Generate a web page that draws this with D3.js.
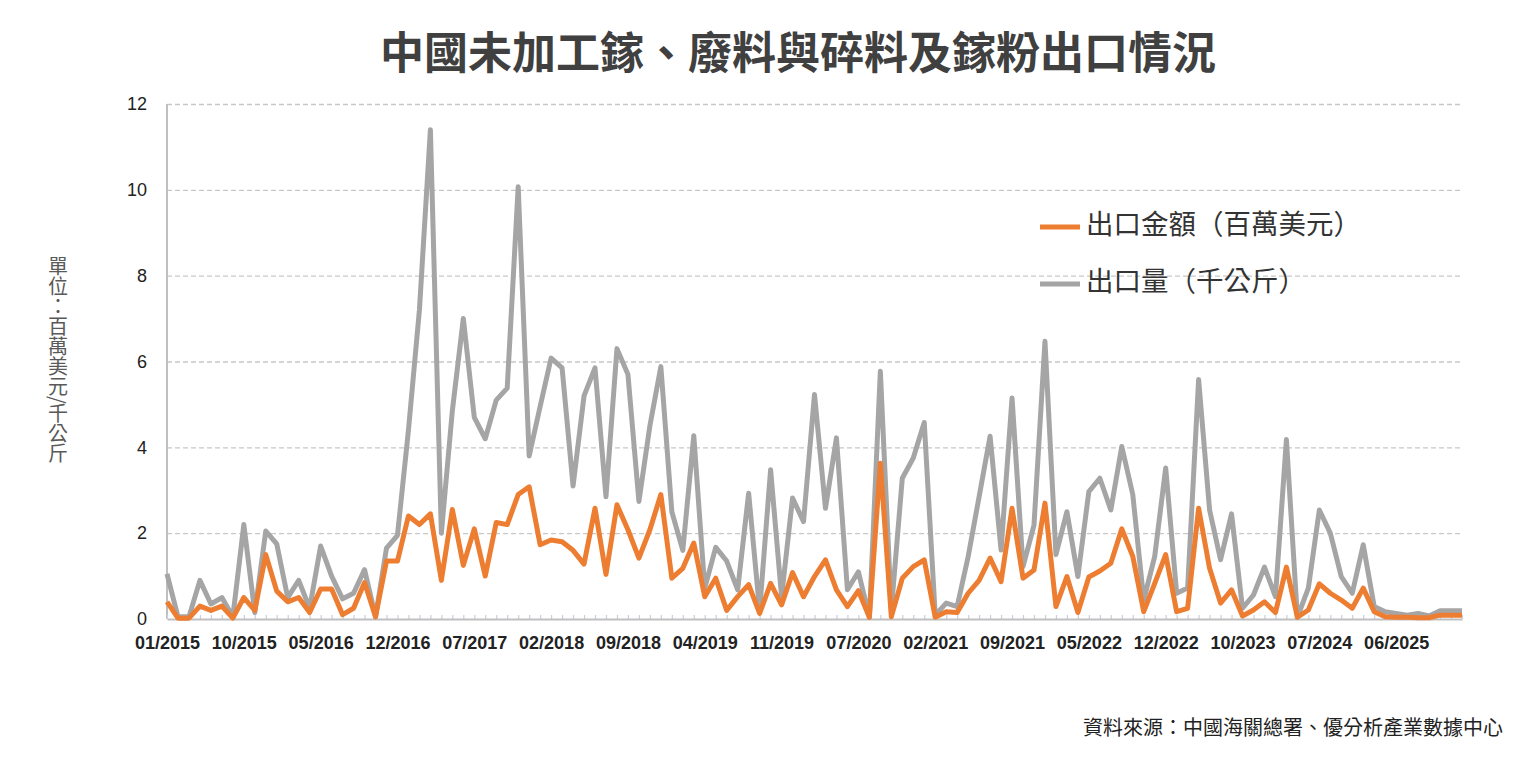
<!DOCTYPE html>
<html>
<head>
<meta charset="utf-8">
<script src="https://cdn.jsdelivr.net/npm/d3@7"></script>
<style>
  body { margin: 0; background: #fff; }
  text { font-family: "Noto Sans CJK TC", "Noto Sans", sans-serif; }
</style>
</head>
<body>
<svg id="chart" width="1530" height="772"></svg>
<script>
// x-axis labels, one every 7 categories
const tickLabels = ["01/2015", "10/2015", "05/2016", "12/2016", "07/2017", "02/2018", "09/2018",
    "04/2019", "11/2019", "07/2020", "02/2021", "09/2021", "05/2022", "12/2022", "10/2023",
    "07/2024", "06/2025"];

// 出口金額 (百萬美元)
const exportValue = [
    0.4, 0.02, 0.02, 0.3, 0.2, 0.3, 0.02, 0.5, 0.2, 1.5,
    0.65, 0.4, 0.5, 0.15, 0.7, 0.7, 0.1, 0.25, 0.85, 0.05,
    1.35, 1.35, 2.4, 2.2, 2.45, 0.9, 2.55, 1.25, 2.1, 1.0,
    2.25, 2.2, 2.9, 3.08, 1.73, 1.84, 1.8, 1.6, 1.28, 2.58,
    1.04, 2.66, 2.08, 1.42, 2.08, 2.9, 0.95, 1.18, 1.77, 0.52,
    0.95, 0.2, 0.52, 0.8, 0.13, 0.83, 0.33, 1.08, 0.52, 0.99,
    1.38, 0.68, 0.29, 0.66, 0.04, 3.63, 0.05, 0.95, 1.22, 1.38,
    0.04, 0.17, 0.15, 0.6, 0.9, 1.42, 0.87, 2.58, 0.95, 1.14,
    2.7, 0.29, 0.99, 0.15, 0.98, 1.12, 1.3, 2.1, 1.46, 0.17,
    0.83, 1.5, 0.17, 0.25, 2.58, 1.18, 0.37, 0.68, 0.07, 0.21,
    0.4, 0.15, 1.21, 0.04, 0.21, 0.82, 0.6, 0.44, 0.25, 0.72,
    0.17, 0.05, 0.04, 0.04, 0.03, 0.03, 0.09, 0.09, 0.09
];

// 出口量 (千公斤)
const exportVolume = [
    1.05, 0.05, 0.05, 0.9, 0.35, 0.5, 0.05, 2.2, 0.15, 2.05,
    1.75, 0.5, 0.9, 0.25, 1.7, 1.0, 0.47, 0.6, 1.15, 0.05,
    1.65, 1.95, 4.4, 7.2, 11.4, 2.0, 4.85, 7.0, 4.7, 4.2,
    5.1, 5.38, 10.07, 3.8, 4.95, 6.08, 5.85, 3.1, 5.2, 5.85,
    2.85, 6.3, 5.7, 2.74, 4.5, 5.88, 2.5, 1.6, 4.27, 0.72,
    1.67, 1.35, 0.68, 2.93, 0.2, 3.48, 0.52, 2.82, 2.27, 5.23,
    2.58, 4.22, 0.68, 1.1, 0.04, 5.77, 0.21, 3.28, 3.75, 4.58,
    0.09, 0.37, 0.29, 1.45, 2.85, 4.26, 1.61, 5.15, 1.22, 2.19,
    6.47, 1.5, 2.5, 0.99, 2.97, 3.28, 2.54, 4.02, 2.9, 0.44,
    1.46, 3.52, 0.6, 0.72, 5.58, 2.54, 1.38, 2.45, 0.25, 0.56,
    1.21, 0.52, 4.18, 0.04, 0.72, 2.54, 2.0, 0.99, 0.6, 1.73,
    0.29, 0.17, 0.13, 0.09, 0.13, 0.07, 0.19, 0.19, 0.19
];

const yTicks = [0, 2, 4, 6, 8, 10, 12];

const seriesNames = ["出口金額（百萬美元）", "出口量（千公斤）"];
const colorValue = "#ED7D31";
const colorVolume = "#A5A5A5";

const svg = d3.select("#chart");

// Set dimensions
const margin = { top: 104, right: 68, bottom: 153, left: 167 };
const width = 1530 - margin.left - margin.right;
const height = 772 - margin.top - margin.bottom;
const n = exportValue.length;

const g = svg.append("g")
    .attr("transform", `translate(${margin.left},${margin.top})`);

const xScale = d3.scaleLinear()
    .domain([0, n - 1])
    .range([0, width]);

const yScale = d3.scaleLinear()
    .domain([0, 12])
    .range([height, 0]);

// Dashed gridlines
const grid = g.append("g")
    .call(d3.axisLeft(yScale).tickValues(yTicks.slice(1)).tickSize(-width).tickFormat(""));
grid.select(".domain").remove();
grid.selectAll("line")
    .attr("stroke", "#c8c8c8")
    .attr("stroke-width", 1.3)
    .attr("stroke-dasharray", "5,3");

// Y axis labels
const yAxis = g.append("g")
    .call(d3.axisLeft(yScale).tickValues(yTicks).tickSize(0).tickPadding(20));
yAxis.select(".domain").remove();
yAxis.selectAll("text")
    .attr("font-size", "18px")
    .attr("fill", "#222")
    .style("font-family", "'Liberation Sans', Arial, sans-serif");

// Left axis line
g.append("line")
    .attr("x1", 0).attr("x2", 0)
    .attr("y1", 0).attr("y2", height)
    .attr("stroke", "#bfbfbf")
    .attr("stroke-width", 2);

// Small category ticks along the baseline
const minor = g.append("g")
    .attr("transform", `translate(0,${height})`)
    .call(d3.axisTop(xScale).tickValues(d3.range(n)).tickSize(4).tickFormat(""));
minor.select(".domain").remove();
minor.selectAll("line")
    .attr("stroke", "#c6cfe0")
    .attr("stroke-width", 1.2);

// X axis
const xAxis = g.append("g")
    .attr("transform", `translate(0,${height})`)
    .call(d3.axisBottom(xScale)
        .tickValues(d3.range(0, n, 7))
        .tickSize(0)
        .tickPadding(17)
        .tickFormat((d, i) => tickLabels[i]));
xAxis.select(".domain")
    .attr("stroke", "#bfbfbf")
    .attr("stroke-width", 2);
xAxis.selectAll("text")
    .attr("font-size", "18px")
    .attr("font-weight", "bold")
    .attr("fill", "#222")
    .style("font-family", "'Liberation Sans', Arial, sans-serif");

// Lines
const line = d3.line()
    .x((d, i) => xScale(i))
    .y(d => yScale(d));

g.append("path")
    .datum(exportVolume)
    .attr("fill", "none")
    .attr("stroke", colorVolume)
    .attr("stroke-width", 5)
    .attr("stroke-linejoin", "round")
    .attr("d", line);

g.append("path")
    .datum(exportValue)
    .attr("fill", "none")
    .attr("stroke", colorValue)
    .attr("stroke-width", 5)
    .attr("stroke-linejoin", "round")
    .attr("d", line);

// Title
svg.append("text")
    .attr("x", 798)
    .attr("y", 57)
    .attr("text-anchor", "middle")
    .attr("dominant-baseline", "middle")
    .attr("font-size", "44px")
    .attr("font-weight", "bold")
    .attr("fill", "#404040")
    .text("中國未加工鎵、廢料與碎料及鎵粉出口情況");

// Y axis title (vertical)
svg.append("text")
    .attr("x", 58)
    .attr("y", 256)
    .attr("font-size", "20px")
    .attr("fill", "#595959")
    .style("writing-mode", "vertical-rl")
    .text("單位：百萬美元/千公斤");

// Legend
const legendItems = [
    { label: seriesNames[0], color: colorValue, y: 227 },
    { label: seriesNames[1], color: colorVolume, y: 284 }
];
legendItems.forEach(item => {
    svg.append("line")
        .attr("x1", 1040).attr("x2", 1080)
        .attr("y1", item.y).attr("y2", item.y)
        .attr("stroke", item.color)
        .attr("stroke-width", 5);
    svg.append("text")
        .attr("x", 1086)
        .attr("y", item.y)
        .attr("dominant-baseline", "middle")
        .attr("font-size", "27.5px")
        .attr("fill", "#333")
        .text(item.label);
});

// Source note
svg.append("text")
    .attr("x", 1503)
    .attr("y", 730)
    .attr("text-anchor", "end")
    .attr("dominant-baseline", "middle")
    .attr("font-size", "20px")
    .attr("fill", "#222")
    .text("資料來源：中國海關總署、優分析產業數據中心");
</script>
</body>
</html>
